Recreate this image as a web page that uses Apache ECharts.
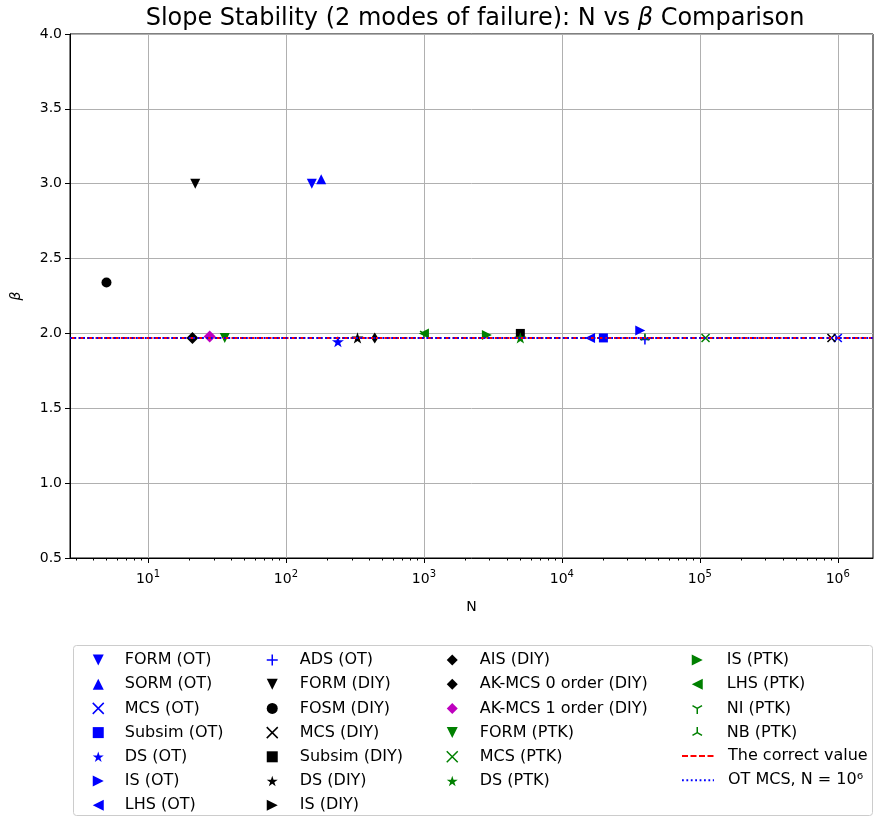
<!DOCTYPE html>
<html>
<head>
<meta charset="utf-8">
<script src="https://cdn.jsdelivr.net/npm/echarts@6/dist/echarts.min.js"></script>
<style>
  html, body { margin: 0; padding: 0; background: #fff; }
  #chart { width: 875px; height: 818px; }
</style>
</head>
<body>
<div id="chart"></div>
<script>
// Methods compared: sample count N and resulting reliability index beta
const methodNames = [
  'FORM (OT)', 'SORM (OT)', 'MCS (OT)', 'Subsim (OT)', 'DS (OT)', 'IS (OT)', 'LHS (OT)',
  'ADS (OT)', 'FORM (DIY)', 'FOSM (DIY)', 'MCS (DIY)', 'Subsim (DIY)', 'DS (DIY)', 'IS (DIY)',
  'AIS (DIY)', 'AK-MCS 0 order (DIY)', 'AK-MCS 1 order (DIY)', 'FORM (PTK)', 'MCS (PTK)', 'DS (PTK)',
  'IS (PTK)', 'LHS (PTK)', 'NI (PTK)', 'NB (PTK)'
];
const sampleSizes = [
  154, 180, 1000000, 20000, 238, 37000, 16000,
  40000, 22, 5, 900000, 5000, 330, 5000,
  440, 21, 28, 36, 110000, 5000,
  2860, 1000, 1000, 40000
];
const betaValues = [
  3.00, 3.03, 1.97, 1.97, 1.945, 2.02, 1.97,
  1.96, 3.00, 2.34, 1.97, 2.00, 1.97, 1.99,
  1.97, 1.97, 1.98, 1.97, 1.97, 1.97,
  1.99, 2.00, 2.00, 1.97
];
const correctBeta = 1.97;
const otMcsBeta = 1.97;
const correctLabel = 'The correct value';
const otMcsLabel = 'OT MCS, N = 10\u2076';
const xTickValues = [10, 100, 1000, 10000, 100000, 1000000];
const yTickMin = 0.5, yTickMax = 4.0, yTickStep = 0.5;

// Marker shapes (matplotlib-like)
const BLUE = '#0000ff', BLACK = '#000000', MAG = '#bf00bf', GREEN = '#008000';
const TRI_V = 'path://M0,0L10,0L5,10Z';
const TRI_A = 'path://M5,0L10,10L0,10Z';
const TRI_L = 'path://M10,0L10,10L0,5Z';
const TRI_R = 'path://M0,0L0,10L10,5Z';
const STAR = 'path://M50,0 L61.2,34.5 L97.6,34.5 L68.2,55.9 L79.4,90.5 L50,69.1 L20.6,90.5 L31.8,55.9 L2.4,34.5 L38.8,34.5 Z';
const XMARK = 'path://M0,0L10,10M10,0L0,10';
const PLUS = 'path://M5,0L5,10M0,5L10,5';
const TRI_DOWN = 'path://M0,0M10,10M5,5L5,10M5,5L0.67,2.5M5,5L9.33,2.5';
const TRI_UP = 'path://M0,0M10,10M5,5L5,0M5,5L0.67,7.5M5,5L9.33,7.5';
const markerStyles = [
  {s: TRI_V, z: 10, c: BLUE}, {s: TRI_A, z: 10, c: BLUE},
  {s: XMARK, z: 8, c: BLUE, line: true}, {s: 'rect', z: 9, c: BLUE},
  {s: STAR, z: 12, c: BLUE}, {s: TRI_R, z: 10, c: BLUE},
  {s: TRI_L, z: 10, c: BLUE},
  {s: PLUS, z: 10, c: BLUE, line: true}, {s: TRI_V, z: 10, c: BLACK},
  {s: 'circle', z: 10, c: BLACK}, {s: XMARK, z: 8, c: BLACK, line: true},
  {s: 'rect', z: 9, c: BLACK}, {s: STAR, z: 12, c: BLACK}, {s: TRI_R, z: 8, c: BLACK},
  {s: 'diamond', z: [7, 11], c: BLACK}, {s: 'diamond', z: [12, 12], c: BLACK},
  {s: 'diamond', z: [12, 12], c: MAG}, {s: TRI_V, z: 10, c: GREEN},
  {s: XMARK, z: 8, c: GREEN, line: true}, {s: STAR, z: 12, c: GREEN},
  {s: TRI_R, z: 10, c: GREEN}, {s: TRI_L, z: 10, c: GREEN},
  {s: TRI_DOWN, z: 9, c: GREEN, line: true}, {s: TRI_UP, z: 9, c: GREEN, line: true}
];

// x-axis range in N
const xMin = 2.72, xMax = 1.8e6;
// minor log ticks (2..9 per decade)
const minorTicks = [];
for (let d = 0; d <= 6; d++) {
  for (let k = 2; k <= 9; k++) {
    const v = k * Math.pow(10, d);
    if (v > xMin && v < xMax) minorTicks.push(v);
  }
}

const FONT = 'DejaVu Sans';
const chart = echarts.init(document.getElementById('chart'), null, {renderer: 'canvas'});

const scatterSeries = methodNames.map((name, i) => {
  const st = markerStyles[i];
  return {
    name: name,
    type: 'scatter',
    xAxisIndex: 0,
    data: [[sampleSizes[i], betaValues[i]]],
    symbol: st.s,
    symbolSize: st.z,
    symbolKeepAspect: true,
    itemStyle: st.line
      ? {color: st.c, borderColor: st.c, borderWidth: 1.5, opacity: 1}
      : {color: st.c, opacity: 1},
    emphasis: {disabled: true},
    z: 3
  };
});

const refLine = (name, value, color, dash) => ({
  name: name, type: 'line', data: [], symbol: 'circle', showSymbol: false,
  lineStyle: {color: color, width: 2, type: dash},
  itemStyle: {color: 'transparent', borderWidth: 0},
  markLine: {
    silent: true, symbol: 'none', label: {show: false},
    lineStyle: {color: color, width: 2, type: dash},
    data: [{yAxis: value}]
  },
  z: 2
});
const refSeries = [
  refLine(correctLabel, correctBeta, '#ff0000', [6, 2.5]),
  refLine(otMcsLabel, otMcsBeta, '#0000ff', [1.8, 2.6])
];

// Legend: four columns of marker entries, plus the two reference lines
const markerItem = i => {
  const st = markerStyles[i];
  const item = {name: methodNames[i], icon: st.s};
  if (st.line) item.itemStyle = {color: st.c, borderColor: st.c, borderWidth: 1.5};
  return item;
};
const range = (a, b) => Array.from({length: b - a}, (_, k) => markerItem(a + k));
const legendCols = [range(0, 7), range(7, 14), range(14, 20), range(20, 24)];
const legendLefts = [92, 266, 446, 691];
const legendPads = [16, 17, 17, 19];
const legendText = pad => ({fontFamily: FONT, fontSize: 16, color: '#000', padding: [0, 0, 0, pad], lineHeight: 16});
const legends = legendCols.map((items, i) => ({
  data: items,
  orient: 'vertical',
  left: legendLefts[i],
  top: 652,
  height: 200,
  itemWidth: 11,
  itemHeight: 11,
  itemGap: 8.2,
  selectedMode: false,
  padding: 0,
  textStyle: legendText(legendPads[i])
}));
legends.push({
  data: [correctLabel, otMcsLabel],
  orient: 'vertical',
  left: 681,
  top: 748,
  height: 100,
  itemWidth: 32,
  itemHeight: 11,
  itemGap: 8.2,
  selectedMode: false,
  padding: 0,
  textStyle: legendText(9)
});

const option = {
  backgroundColor: '#ffffff',
  animation: false,
  title: {
    text: 'Slope Stability (2 modes of failure): N vs {i|\u03b2} Comparison',
    left: 470, top: 2, textAlign: 'center',
    textStyle: {
      fontFamily: FONT, fontSize: 24, fontWeight: 'normal', color: '#000',
      rich: {i: {fontFamily: FONT, fontSize: 24, fontStyle: 'italic', color: '#000'}}
    }
  },
  grid: {
    left: 70, right: 2, top: 34, bottom: 260,
    outerBoundsMode: 'none',
    show: true, borderColor: '#000', borderWidth: 1, backgroundColor: 'transparent'
  },
  legend: legends,
  xAxis: [
    {
      type: 'log', logBase: 10, min: xMin, max: xMax,
      name: 'N', nameLocation: 'middle', nameGap: 42,
      nameTextStyle: {fontFamily: FONT, fontSize: 14, color: '#000'},
      axisLine: {show: true, lineStyle: {color: '#000', width: 1}},
      axisTick: {show: true, length: 5, inside: false, lineStyle: {color: '#000'}, customValues: xTickValues},
      axisLabel: {
        customValues: xTickValues,
        margin: 11,
        formatter: v => '{b|10}{s|' + Math.round(Math.log10(v)) + '}',
        rich: {
          b: {fontFamily: FONT, fontSize: 14, color: '#000', lineHeight: 20},
          s: {fontFamily: FONT, fontSize: 10, color: '#000', verticalAlign: 'top', lineHeight: 10}
        }
      },
      splitLine: {show: true, lineStyle: {color: '#b0b0b0', width: 1}},
      minorTick: {show: false}
    },
    {
      type: 'log', logBase: 10, min: xMin, max: xMax, position: 'bottom',
      axisLine: {show: false},
      axisTick: {show: true, length: 2.5, lineStyle: {color: '#000'}, customValues: minorTicks},
      axisLabel: {show: false},
      splitLine: {show: false}
    }
  ],
  yAxis: {
    type: 'value', min: yTickMin, max: yTickMax, interval: yTickStep,
    name: '\u03b2', nameLocation: 'middle', nameGap: 47, nameRotate: 90,
    nameTextStyle: {fontFamily: FONT, fontSize: 14, fontStyle: 'italic', color: '#000'},
    axisLine: {show: true, lineStyle: {color: '#000', width: 1}},
    axisTick: {show: true, length: 5, lineStyle: {color: '#000'}},
    axisLabel: {fontFamily: FONT, fontSize: 14, color: '#000', margin: 8, formatter: v => v.toFixed(1)},
    splitLine: {show: true, lineStyle: {color: '#b0b0b0', width: 1}}
  },
  graphic: [{
    type: 'rect', left: 73, top: 645, z: -1,
    shape: {width: 799, height: 170, r: 3},
    style: {fill: '#fff', stroke: '#cccccc', lineWidth: 1}
  }],
  series: refSeries.concat(scatterSeries)
};
chart.setOption(option);
</script>
</body>
</html>
